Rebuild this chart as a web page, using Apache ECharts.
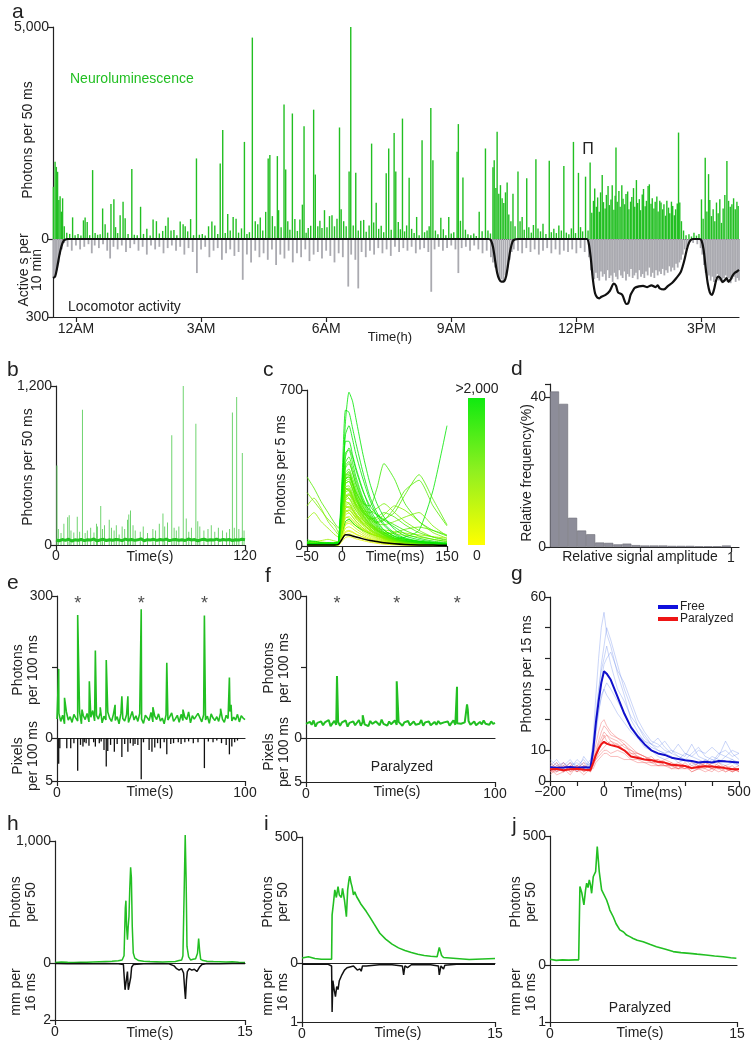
<!DOCTYPE html>
<html><head><meta charset="utf-8">
<script src="https://cdn.jsdelivr.net/npm/echarts@6/dist/echarts.min.js"></script>
<style>html,body{margin:0;padding:0;background:#fff}#c{width:756px;height:1048px}</style>
</head><body><div id="c"></div>
<script>
// ---------------- DATA ----------------
// Panel a: neuroluminescence spikes [hour, photons per 50 ms]
const aGreen = [
[-0.54,1230],[-0.50,1820],[-0.47,1700],[-0.44,1585],[-0.41,920],[-0.38,1010],[-0.35,645],[-0.32,960],[-0.28,300],[-0.22,150],[-0.15,120],[-0.08,510],[-0.02,90],
[0.05,120],[0.12,80],[0.18,440],[0.22,510],[0.27,400],[0.33,90],[0.40,1625],[0.46,140],[0.52,100],[0.58,110],[0.64,720],[0.70,350],[0.76,150],[0.84,825],[0.91,935],[0.95,280],
[1.00,140],[1.06,560],[1.13,880],[1.18,490],[1.25,120],[1.34,1650],[1.40,100],[1.47,90],[1.55,760],[1.62,120],[1.70,240],[1.78,80],[1.85,460],[1.93,420],
[2.00,130],[2.08,190],[2.15,310],[2.21,510],[2.28,200],[2.35,210],[2.42,90],[2.50,410],[2.57,350],[2.62,300],[2.68,180],[2.75,470],[2.82,90],[2.89,1900],[2.96,100],
[3.03,120],[3.10,80],[3.18,300],[3.26,410],[3.33,320],[3.40,120],[3.46,1780],[3.52,2570],[3.58,140],[3.64,590],[3.70,200],[3.77,520],[3.84,480],[3.90,150],[3.97,250],
[4.04,2290],[4.10,120],[4.16,160],[4.23,4750],[4.30,420],[4.36,350],[4.42,510],[4.48,200],[4.55,640],[4.61,1900],[4.65,1980],[4.71,540],[4.77,300],[4.83,1955],[4.86,680],[4.92,280],[4.99,3170],
[5.03,1640],[5.08,420],[5.13,220],[5.19,2960],[5.25,470],[5.31,190],[5.37,460],[5.43,810],[5.47,2660],[5.52,150],[5.57,260],[5.63,310],[5.70,3050],[5.74,1520],[5.80,300],[5.85,430],[5.90,260],[5.96,680],
[6.02,280],[6.08,540],[6.14,560],[6.20,300],[6.26,480],[6.32,2630],[6.36,700],[6.42,420],[6.48,300],[6.55,1590],[6.59,5000],[6.65,320],[6.71,1560],[6.77,200],[6.83,430],[6.90,450],[6.96,170],
[7.03,320],[7.09,2250],[7.14,390],[7.20,855],[7.26,240],[7.32,310],[7.38,160],[7.44,1550],[7.50,2135],[7.56,220],[7.63,2500],[7.67,1590],[7.73,400],[7.78,230],[7.83,2840],[7.88,180],[7.93,320],[7.99,1445],
[8.05,240],[8.11,140],[8.17,520],[8.23,90],[8.30,2330],[8.36,160],[8.42,200],[8.47,300],[8.51,3090],[8.56,1860],[8.62,200],[8.68,110],[8.75,500],[8.81,230],[8.87,90],[8.94,520],
[9.00,130],[9.06,160],[9.14,2055],[9.17,2710],[9.22,430],[9.28,1450],[9.34,220],[9.40,110],[9.47,90],[9.54,130],[9.60,70],[9.67,640],[9.74,180],[9.82,2135],[9.88,200],[9.94,130],
[10.00,1690],[10.03,1860],[10.07,1200],[10.10,2530],[10.14,1070],[10.18,1270],[10.22,960],[10.26,850],[10.30,1100],[10.34,1330],[10.38,580],[10.43,420],[10.48,1070],[10.53,300],[10.60,1590],[10.65,420],[10.70,520],[10.75,220],[10.81,1430],[10.86,280],[10.92,150],[10.97,330],
[11.03,1880],[11.08,250],[11.14,180],[11.20,360],[11.27,120],[11.35,1845],[11.40,160],[11.46,240],[11.52,140],[11.58,320],[11.64,200],[11.70,1720],[11.76,150],[11.82,110],[11.88,250],[11.93,2290],[11.98,140],
[12.05,1560],[12.10,280],[12.15,180],[12.22,1470],[12.28,200],[12.33,1805],
[12.37,620],[12.41,900],[12.44,1190],[12.48,760],[12.51,980],[12.55,640],[12.58,1100],[12.62,1510],[12.65,870],[12.69,720],[12.72,1040],[12.76,1250],[12.79,800],[12.83,930],[12.86,1270],[12.90,690],[12.93,1020],[12.95,2160],[12.98,880],
[13.02,1130],[13.05,760],[13.09,1270],[13.12,950],[13.16,820],[13.19,1060],[13.23,1120],[13.26,700],[13.30,880],[13.33,990],[13.37,1200],[13.40,760],[13.44,1390],[13.47,850],[13.51,940],[13.54,680],[13.58,1050],[13.61,1180],[13.65,770],[13.68,900],[13.72,1250],[13.75,1290],[13.79,830],[13.82,960],[13.86,720],[13.89,880],[13.93,1000],[13.96,650],
[14.00,900],[14.03,860],[14.07,700],[14.10,820],[14.14,550],[14.17,900],[14.21,740],[14.24,610],[14.28,880],[14.31,780],[14.35,560],[14.38,700],[14.42,840],[14.45,2510],[14.48,860],[14.52,420],[14.57,200],[14.63,90],[14.70,110],[14.76,60],[14.82,150],[14.88,80],[14.94,120],
[15.00,935],[15.04,480],[15.09,1915],[15.13,650],[15.17,1530],[15.20,920],[15.24,540],[15.28,700],[15.32,420],[15.36,860],[15.40,610],[15.44,940],[15.48,380],[15.52,720],[15.56,1040],[15.61,1840],[15.65,900],[15.69,760],[15.73,820],[15.77,960],[15.81,700],[15.85,880],[15.88,780]
];
// Panel a: grey activity [hour, active s]
const aGrey = [
[-0.54,150],[-0.50,140],[-0.46,120],[-0.42,90],[-0.38,60],[-0.34,40],[-0.28,15],[-0.2,30],[-0.1,45],[0.0,25],[0.1,40],[0.2,30],[0.3,20],[0.38,55],[0.45,25],[0.55,35],[0.65,20],[0.75,45],[0.82,75],[0.9,30],
[1.0,40],[1.1,25],[1.2,50],[1.3,35],[1.4,20],[1.5,45],[1.6,30],[1.7,60],[1.8,25],[1.9,40],[2.0,30],[2.1,55],[2.2,35],[2.3,25],[2.4,45],[2.5,30],[2.6,60],[2.7,35],[2.8,50],[2.9,131],
[3.0,40],[3.1,30],[3.2,70],[3.3,45],[3.4,35],[3.5,80],[3.6,55],[3.7,40],[3.8,65],[3.9,50],[4.0,157],[4.1,60],[4.2,90],[4.3,45],[4.4,70],[4.5,55],[4.6,80],[4.7,40],[4.8,100],[4.9,60],
[5.0,75],[5.1,45],[5.2,90],[5.3,55],[5.4,70],[5.5,40],[5.6,85],[5.7,60],[5.8,50],[5.9,75],[6.0,45],[6.1,65],[6.2,90],[6.3,55],[6.4,70],[6.53,183],[6.6,60],[6.7,80],[6.77,190],[6.85,50],[6.95,70],
[7.05,45],[7.15,60],[7.25,35],[7.35,55],[7.45,40],[7.55,65],[7.65,30],[7.75,50],[7.85,35],[7.95,45],[8.05,30],[8.15,55],[8.25,40],[8.35,35],[8.45,50],[8.52,203],[8.6,40],[8.7,30],[8.8,45],[8.9,35],
[9.0,25],[9.1,40],[9.17,131],[9.25,35],[9.35,30],[9.45,45],[9.55,25],[9.65,40],[9.75,55],[9.85,45],[9.95,70],[10.0,90],[10.05,110],[10.1,130],[10.15,150],[10.2,155],[10.25,160],[10.3,140],[10.35,110],[10.4,80],[10.45,50],[10.5,40],
[10.6,45],[10.7,55],[10.8,35],[10.9,50],[11.0,40],[11.1,60],[11.2,45],[11.3,35],[11.4,55],[11.5,40],[11.6,60],[11.7,45],[11.8,50],[11.9,40],[12.0,55],[12.1,35],[12.2,50],[12.3,70],
[12.35,120],[12.39,140],[12.43,155],[12.47,130],[12.51,150],[12.55,160],[12.59,125],[12.63,145],[12.67,135],[12.71,160],[12.75,120],[12.79,150],[12.83,140],[12.87,165],[12.91,130],[12.95,145],[12.99,155],
[13.03,120],[13.07,140],[13.11,150],[13.15,125],[13.19,160],[13.23,135],[13.27,145],[13.31,115],[13.35,150],[13.39,140],[13.43,130],[13.47,155],[13.51,120],[13.55,145],[13.59,135],[13.63,150],[13.67,125],[13.71,140],[13.75,110],[13.79,145],[13.83,130],[13.87,150],[13.91,120],[13.95,140],[13.99,125],
[14.03,135],[14.07,115],[14.11,140],[14.15,120],[14.19,130],[14.23,105],[14.27,125],[14.31,110],[14.35,120],[14.39,95],[14.43,110],[14.47,90],[14.51,80],[14.55,60],[14.6,40],[14.65,30],[14.7,20],[14.8,15],[14.9,20],[14.98,35],
[15.02,60],[15.06,100],[15.1,130],[15.14,150],[15.18,140],[15.22,160],[15.26,145],[15.3,165],[15.34,150],[15.38,135],[15.42,160],[15.46,145],[15.5,170],[15.54,150],[15.58,140],[15.62,165],[15.66,150],[15.7,170],[15.74,155],[15.78,145],[15.82,165],[15.86,150],[15.9,160]
];
// Panel a: locomotor activity (10-min average) [hour, active s]
const aBlack = [
[-0.55,150],[-0.5,145],[-0.45,110],[-0.4,65],[-0.35,30],[-0.3,8],[-0.25,2],[-0.2,0],[1,0],[2,0],[3,0],[4,0],[5,0],[6,0],[7,0],[8,0],[9,0],[9.9,0],
[9.95,5],[10.0,30],[10.05,80],[10.1,130],[10.15,155],[10.2,164],[10.27,162],[10.32,140],[10.37,90],[10.42,40],[10.47,10],[10.52,2],[10.6,0],[11,0],[12,0],[12.25,0],
[12.3,20],[12.35,80],[12.4,160],[12.45,210],[12.5,225],[12.55,228],[12.6,222],[12.7,215],[12.8,200],[12.9,172],[12.95,180],[13.0,205],[13.1,215],[13.2,250],[13.25,245],[13.3,215],[13.35,200],[13.4,188],[13.5,182],[13.6,180],[13.7,185],[13.8,178],[13.9,185],[13.95,178],
[14.0,190],[14.1,194],[14.2,180],[14.3,168],[14.4,150],[14.5,128],[14.55,105],[14.6,75],[14.65,40],[14.7,15],[14.75,3],[14.8,0],[14.95,0],
[15.0,5],[15.05,40],[15.1,110],[15.15,170],[15.2,205],[15.25,215],[15.3,195],[15.35,160],[15.4,145],[15.45,150],[15.5,165],[15.55,160],[15.6,150],[15.65,165],[15.7,155],[15.75,140],[15.8,130],[15.85,125],[15.9,119]
];
const aTickHours = [0,3,6,9,12,15];
const aTickLabels = ['12AM','3AM','6AM','9AM','12PM','3PM'];

// Panel b: baseline every 2 s, spikes [s, photons]
const bBase = [38,32,41,35,44,30,39,36,42,33,40,37,45,31,38,43,34,40,36,42,39,33,44,37,41,35,39,46,32,40,38,43,35,41,37,44,33,39,42,36,40,34,45,38,41,32,39,43,36,40,37,44,35,41,38,42,34,40,37,43,39];
const bSpikes = [[0.6,600],[1.5,120],[3.2,90],[5.0,160],[7.4,210],[8.4,225],[9.5,110],[11.3,95],[13.5,213],[15.0,100],[16.8,1020],[18.5,90],[19.9,110],[22.0,130],[24.1,95],[25.7,160],[26.3,140],[28.4,294],[29.5,120],[30.8,150],[33.8,190],[35.2,130],[36.9,110],[38.3,150],[40.1,80],[42.0,140],[43.6,120],[45.4,190],[46.2,230],[47.3,260],[48.9,150],[50.3,110],[53.5,100],[55.4,140],[58.1,90],[61.5,120],[63.2,110],[65.6,160],[67.9,238],[69.0,140],[70.8,170],[73.5,828],[75.0,130],[76.4,110],[78.0,140],[80.8,1200],[82.7,200],[84.3,100],[86.0,130],[88.8,916],[90.0,180],[91.3,140],[93.9,110],[96.5,120],[98.6,150],[100.8,100],[103.1,130],[105.7,110],[108.3,95],[110.2,120],[112.0,1000],[113.2,130],[114.7,1117],[116.1,120],[118.3,695],[119.4,110]];

// Panel c: individual responses (photons per 5 ms) at these times (ms)
const cT = [-50,-40,-30,-20,-10,-5,0,5,10,15,20,30,40,50,60,75,90,110,130,150];
const cTraces = [
[2,3,2,3,2,4,20,38,42,38,32,24,17,12,8,5,4,3,2,2],
[3,3,4,3,4,4,28,50,55,50,42,31,22,15,11,7,5,3,2,2],
[4,5,4,6,5,7,30,60,66,60,52,40,30,22,16,11,8,6,4,3],
[3,4,3,4,3,5,35,65,70,64,54,40,28,19,13,8,5,4,3,2],
[4,3,4,3,5,5,40,80,86,78,66,48,34,23,16,10,6,4,3,2],
[3,4,5,4,3,6,50,95,102,92,78,56,40,27,18,11,7,5,3,3],
[6,8,7,9,7,10,45,100,110,100,90,70,55,45,36,28,20,14,10,7],
[4,5,4,5,6,6,55,110,118,105,89,64,46,31,21,13,8,6,4,3],
[6,5,7,6,5,8,60,110,120,105,90,70,55,45,38,32,40,70,250,540],
[8,6,7,5,8,9,70,130,125,112,98,75,58,44,34,25,18,12,9,6],
[5,4,5,6,4,7,65,125,132,118,100,72,51,35,23,14,9,6,4,3],
[4,5,6,4,5,7,70,140,148,132,112,80,57,38,26,15,10,7,5,3],
[10,14,18,15,12,14,85,150,160,145,130,105,85,70,62,55,48,40,30,20],
[8,6,9,7,8,10,90,160,150,130,110,80,60,45,35,25,18,12,9,7],
[5,6,5,6,7,8,80,155,162,145,122,88,62,42,28,17,11,8,5,4],
[6,5,6,7,5,8,85,170,178,160,135,97,68,46,31,18,12,8,6,4],
[16,20,24,30,22,18,95,170,175,160,140,115,95,80,72,65,58,50,42,35],
[12,9,7,10,8,12,100,180,170,150,125,95,70,52,40,30,22,15,11,8],
[120,150,110,80,50,40,90,180,190,165,140,100,70,48,32,20,12,8,6,5],
[5,6,7,5,6,9,95,190,195,175,148,105,75,50,34,20,13,9,6,4],
[5,7,6,8,6,9,120,200,190,165,140,100,74,55,41,29,20,14,10,7],
[7,6,5,7,6,9,100,205,215,190,160,115,80,55,36,21,14,9,6,5],
[180,215,170,110,70,50,120,220,230,200,170,120,80,55,35,20,15,10,8,6],
[15,12,10,12,14,16,110,210,230,210,185,150,130,120,140,180,160,110,60,35],
[9,11,8,6,9,11,130,230,215,185,160,118,88,66,50,36,26,18,13,9],
[6,7,8,6,7,10,110,225,235,210,175,125,88,60,40,23,15,10,7,5],
[10,12,14,10,12,14,120,240,250,220,190,150,120,100,95,110,130,150,90,45],
[240,200,160,120,90,60,150,260,250,220,180,130,90,60,40,25,15,10,8,6],
[14,10,12,9,11,13,140,260,245,215,182,135,100,76,58,42,30,21,15,10],
[8,7,9,8,10,11,120,250,255,225,190,135,95,64,42,25,16,10,7,5],
[20,18,15,12,10,12,130,250,260,230,200,160,150,170,190,150,110,70,40,25],
[10,8,9,11,8,12,130,265,270,240,205,145,100,68,45,26,16,11,8,6],
[9,8,10,7,9,11,140,280,290,255,215,155,105,70,47,27,17,11,8,6],
[14,12,10,12,14,16,150,280,290,255,215,160,125,110,120,150,230,320,210,95],
[7,6,8,7,6,9,150,290,300,260,210,140,95,70,55,60,75,85,70,50],
[7,9,8,10,9,12,150,300,310,275,230,165,112,75,50,28,18,12,8,6],
[15,12,10,10,12,18,160,300,310,280,240,190,180,260,370,300,190,110,70,45],
[310,260,200,150,100,80,180,300,320,285,230,160,110,72,50,30,20,15,10,8],
[10,10,12,15,10,15,170,320,320,285,245,175,130,105,115,170,250,295,180,90],
[12,10,8,9,11,13,160,310,330,290,245,175,120,80,52,30,19,12,9,7],
[9,8,10,9,8,10,160,320,335,280,220,150,120,130,150,130,95,60,40,28],
[8,9,11,8,10,12,170,330,345,305,260,185,125,85,56,33,20,13,9,7],
[10,12,9,11,10,14,180,350,370,330,280,195,135,90,60,35,22,14,10,8],
[12,14,11,13,12,15,190,360,380,330,275,200,160,140,120,95,70,45,30,20],
[8,10,12,10,8,14,200,375,400,350,295,205,142,96,62,36,22,15,10,8],
[28,20,15,10,12,20,230,420,430,375,310,215,152,102,70,45,30,20,15,10],
[10,12,10,11,13,14,210,400,440,400,340,245,180,140,115,85,55,35,22,15],
[12,10,8,14,10,15,220,470,470,410,350,250,165,112,72,42,26,16,11,8],
[18,22,15,12,16,20,270,500,540,480,410,300,205,135,92,52,32,20,14,10],
[10,8,12,15,10,18,300,610,600,530,460,330,220,150,100,58,36,22,15,12],
[12,10,14,9,12,16,240,560,690,650,570,410,280,190,130,75,45,28,18,12]
];
const cMean = [5,5,5,5,5,8,30,50,49,45,40,32,25,20,15,10,7,5,4,3];

// Panel d: histogram, 0.05-wide bins
const dBinCenters = [0.025,0.075,0.125,0.175,0.225,0.275,0.325,0.375,0.425,0.475,0.525,0.575,0.625,0.675,0.725,0.775,0.825,0.875,0.925,0.975];
const dFreq = [41.5,38.2,7.8,4.4,3.4,1.2,1.1,0.7,0.9,0.5,0.4,0.4,0.4,0.3,0.3,0.3,0.2,0.2,0.2,0.4];

// Panel e: photons baseline every 1 s + spikes; pixels per 100 ms
const eBase = [40,52,35,48,30,55,38,45,33,50,42,36,55,30,47,39,52,34,44,58,36,48,40,53,32,46,38,55,42,35,50,37,45,30,52,41,36,49,33,44,56,38,47,35,52,40,31,48,43,37,54,34,46,39,51,36,42,30,49,38,45,53,35,41,48,33,50,37,44,39,55,32,47,40,36,52,43,34,49,38,46,31,51,42,37,45,35,53,40,33,48,41,56,36,44,38,50,34,47,42,39];
const eSpikes = [[0.9,146],[4.0,85],[11.0,260],[13.3,60],[17.2,120],[20.4,185],[23.0,65],[26.2,165],[30.9,70],[34.5,88],[37.7,88],[44.8,272],[51.0,65],[58.4,159],[67.0,60],[78.4,259],[87.0,62],[91.7,128],[92.6,70]];
const ePixels = [[0.9,3.0],[1.5,1.2],[5.2,1.2],[7.3,1.2],[9.0,0.6],[11.0,3.8],[12.5,0.8],[13.8,1.0],[14.5,0.5],[15.5,0.6],[17.0,0.9],[19.5,0.5],[20.4,1.0],[22.5,0.6],[23.5,0.4],[25.0,1.4],[26.2,3.3],[27.0,1.5],[28.5,0.8],[30.5,1.6],[32.0,0.7],[34.5,2.2],[36.0,0.7],[37.7,1.6],[39.0,0.6],[40.5,0.9],[41.5,0.7],[43.0,0.8],[44.8,4.8],[46.0,0.5],[49.0,1.4],[50.5,1.6],[52.0,1.1],[53.5,0.6],[55.0,1.2],[57.0,0.5],[58.4,1.9],[60.5,0.7],[62.0,0.6],[64.5,0.5],[66.0,0.7],[68.0,0.5],[70.0,0.4],[72.5,0.6],[75.0,0.5],[78.4,3.5],[80.5,0.4],[83.0,0.5],[85.0,0.3],[87.5,0.6],[90.0,0.8],[91.7,1.9],[93.0,1.0],[94.5,0.5],[96.0,0.3]];
const eStars = [11.0,44.8,78.4];

// Panel f: paralyzed
const fBase = [30,26,34,28,37,24,32,29,35,27,33,30,38,25,31,36,28,34,26,33,30,37,24,32,29,35,27,31,38,26,34,29,33,25,36,30,28,35,31,27,39,30,33,26,35,29,32,37,28,34,30,26,33,29,36,27,31,35,28,32,30,38,26,33,29,35,27,31,34,28,36,30,27,33,29,35,26,32,37,28,31,34,30,26,33,29,36,28,32,35,27,31,34,29,37,30,33,28,35,30,32];
const fSpikes = [[16.4,131],[30.0,48],[48.0,120],[79.9,108],[85.2,71],[85.6,60]];
const fStars = [16.4,48.0,80.0];

// Panel g: photons per 15 ms at these times (ms)
const gT = [-200,-175,-150,-125,-100,-75,-50,-40,-30,-20,-10,0,10,25,50,75,100,125,150,175,200,225,250,275,300,325,350,375,400,425,450,475,500];
const gFreeMean = [4.5,4.3,4.4,4.6,4.3,4.5,4.4,10,19,26,32,35.8,35,33,27.5,22,17.5,14.5,12,10,9,8.5,7.6,7.2,6.8,6.5,6.0,6.3,6.0,6.5,6.4,6.2,6.0];
const gParMean = [3.8,3.9,3.5,3.8,4.0,3.7,3.6,6,8.5,10.5,12,12.8,12.2,11.7,11.2,10,8,7.5,7,6.8,6.3,6,5.3,5.1,4.9,4.2,4.6,4.8,4.7,4.5,4.2,3.8,3.8];
const gFreeTraces = [
[5,7,4,6,3,8,5,14,28,40,50,55,48,44,35,28,20,16,13,11,10,9,8,7,9,8,7,6,8,7,6,7,6],
[3,5,6,4,7,5,4,9,18,28,38,44,50,46,38,30,24,18,14,12,10,9,10,8,7,9,11,8,7,6,8,7,5],
[6,4,5,7,4,6,5,11,20,27,33,38,40,42,36,32,26,20,16,13,12,10,9,12,9,8,10,9,11,9,8,10,9],
[4,6,3,5,6,4,6,8,15,22,28,30,32,30,26,22,18,15,13,12,14,11,9,8,7,6,5,7,6,8,13,9,7],
[5,3,6,4,5,7,4,10,17,23,27,30,28,26,22,19,16,14,11,10,8,7,8,6,7,5,6,5,7,6,5,6,5],
[7,5,4,6,5,4,7,12,22,30,36,40,44,38,30,26,21,18,15,12,11,13,10,9,8,12,8,7,6,9,10,8,9]
];
const gParTraces = [
[4,6,3,5,4,6,3,7,10,13,16,18,17,15,14,12,10,9,8,7,7,6,5,6,5,4,5,6,5,4,5,3,4],
[3,4,6,3,5,3,5,6,9,11,13,14,15,14,13,11,10,8,7,8,6,7,6,5,4,6,5,4,6,5,4,5,3],
[5,3,4,6,3,5,4,5,8,10,12,15,13,12,12,10,9,9,8,6,7,5,5,4,6,4,5,5,4,6,4,4,5],
[2,4,5,3,4,2,4,6,7,9,10,11,12,13,11,12,9,8,7,7,5,6,4,5,5,3,4,6,5,4,3,4,3],
[4,2,3,5,3,4,3,5,7,8,9,10,10,9,10,9,7,7,6,6,6,5,6,4,4,5,4,3,4,5,4,3,4],
[3,5,4,2,5,4,3,8,12,16,19,20,18,16,14,13,11,9,8,7,6,6,5,5,4,4,6,5,4,4,5,4,4],
[6,4,3,4,5,3,4,4,6,7,8,9,9,8,8,7,7,6,6,5,5,5,4,4,5,3,4,4,3,5,3,4,3],
[3,3,5,4,3,5,4,6,9,12,14,16,15,13,12,10,8,8,7,6,5,5,5,4,5,4,4,5,4,3,4,3,4]
];

// Panel h
const hPhotons = [[0,5],[0.5,8],[1,6],[1.5,5],[2,7],[2.5,6],[3,8],[3.5,10],[4,12],[4.5,14],[5,18],[5.3,25],[5.45,60],[5.55,450],[5.6,511],[5.65,300],[5.72,190],[5.78,300],[5.84,380],[5.9,600],[5.97,785],[6.03,700],[6.1,300],[6.18,82],[6.3,40],[6.4,27],[6.6,20],[7,15],[7.5,12],[8,10],[8.5,8],[9,10],[9.5,12],[9.8,20],[10,25],[10.1,60],[10.2,600],[10.28,1050],[10.35,700],[10.42,136],[10.55,50],[10.7,25],[10.9,30],[11.1,35],[11.25,80],[11.34,200],[11.42,100],[11.5,30],[11.7,20],[12,15],[12.5,12],[13,10],[13.5,8],[14,10],[14.5,6],[15,5]];
const hMove = [[0,0.02],[1,0.03],[2,0.02],[3,0.03],[4,0.02],[5,0.03],[5.4,0.05],[5.48,0.6],[5.53,0.94],[5.6,0.9],[5.66,0.5],[5.72,0.3],[5.79,0.94],[5.85,0.9],[5.92,0.94],[5.98,0.5],[6.05,0.15],[6.2,0.05],[7,0.03],[8,0.02],[9,0.03],[9.4,0.1],[9.6,0.2],[9.8,0.25],[10,0.2],[10.15,0.35],[10.25,1.0],[10.3,1.26],[10.38,0.6],[10.45,0.3],[10.6,0.2],[10.8,0.25],[11,0.22],[11.2,0.3],[11.4,0.15],[11.6,0.05],[12,0.02],[13,0.03],[14,0.02],[15,0.02]];
// Panel i
const iPhotons = [[0,20],[0.5,25],[1,18],[1.5,15],[2,15],[2.3,15],[2.34,191],[2.45,240],[2.55,290],[2.67,260],[2.8,303],[2.9,270],[3.06,260],[3.15,296],[3.3,250],[3.45,184],[3.55,290],[3.65,330],[3.71,345],[3.8,320],[3.9,300],[4.0,270],[4.1,283],[4.25,263],[4.4,250],[4.6,232],[4.8,218],[5.0,204],[5.3,180],[5.6,155],[6.05,118],[6.5,95],[7.0,75],[7.5,60],[8.0,50],[8.5,42],[9,35],[9.5,30],[10,27],[10.5,25],[10.67,62],[10.85,30],[11,22],[12,18],[13,14],[14,16],[15,18]];
const iMove = [[0,0.02],[1,0.02],[2,0.02],[2.3,0.05],[2.34,0.83],[2.4,0.3],[2.5,0.45],[2.6,0.57],[2.7,0.4],[2.8,0.45],[2.9,0.3],[3.1,0.2],[3.3,0.12],[3.5,0.08],[4,0.05],[4.3,0.12],[4.5,0.1],[4.6,0.14],[4.7,0.05],[5,0.05],[6,0.03],[7,0.03],[7.8,0.05],[7.9,0.2],[8,0.05],[8.2,0.08],[8.5,0.03],[10,0.03],[10.6,0.05],[10.67,0.2],[10.8,0.05],[11,0.1],[11.1,0.04],[12,0.02],[15,0.02]];
// Panel j
const jPhotons = [[0,22],[0.5,18],[1,20],[1.5,19],[2,20],[2.3,20],[2.4,304],[2.55,280],[2.72,233],[2.85,290],[2.94,317],[3.05,300],[3.15,330],[3.25,310],[3.34,278],[3.47,342],[3.6,345],[3.66,362],[3.79,459],[3.95,362],[4.14,291],[4.3,285],[4.54,252],[4.7,230],[4.8,213],[5.07,187],[5.3,160],[5.6,136],[5.9,128],[6.14,116],[6.4,110],[6.67,103],[7.0,96],[7.47,90],[8.0,80],[8.54,71],[9.2,62],[9.88,52],[10.5,48],[11.2,45],[11.8,42],[12.5,39],[13.2,35],[13.9,32],[14.5,28],[14.95,26]];

// ---------------- CHART ----------------
const INK = '#222';
const FONT = '"Liberation Sans", Arial, sans-serif';
const GREEN = '#22bf22';
const fmtNum = v => { const s = String(Math.abs(v)).replace(/\B(?=(\d{3})+(?!\d))/g, ','); return (v < 0 ? '\u2212' : '') + s; };

const grids = [], xAxes = [], yAxes = [], series = [];
function addGrid(l, t, w, h) { grids.push({left:l, top:t, width:w, height:h, containLabel:false, outerBoundsMode:'none'}); return grids.length - 1; }
function axisCommon(o) {
  return {
    axisLine: {show: o.line !== false, onZero:false, lineStyle:{color:INK, width:1.2}},
    axisTick: {show: !!o.ticks, customValues: o.ticks, length: 5, lineStyle:{color:INK, width:1.2}},
    axisLabel: {show: !!o.labels, customValues: o.labels, formatter: o.fmt || fmtNum, fontSize: 14, color: INK, fontFamily: FONT, margin: o.margin || 4},
    splitLine: {show:false}
  };
}
function addX(gi, min, max, o) { xAxes.push(Object.assign({gridIndex:gi, type:'value', min, max, position:'bottom'}, axisCommon(o))); }
function addY(gi, min, max, o, inv) { yAxes.push(Object.assign({gridIndex:gi, type:'value', min, max, inverse: !!inv, position:'left'}, axisCommon(o))); }
const pairsFromBase = (base, step) => base.map((v, i) => [i * step, v]);
const mergeSorted = (a, b) => a.concat(b).sort((p, q) => p[0] - q[0]);
const zip = (xs, ys) => xs.map((x, i) => [x, ys[i]]);

// a
const gA1 = addGrid(53, 27, 686, 212);
addX(gA1, -0.55, 15.9, {line:true});
addY(gA1, 0, 5000, {ticks:[0,5000], labels:[0,5000]});
const gA2 = addGrid(53, 239, 686, 78);
addX(gA2, -0.55, 15.9, {ticks:aTickHours, labels:aTickHours, fmt: v => aTickLabels[aTickHours.indexOf(v)], margin:5});
addY(gA2, 0, 300, {ticks:[300], labels:[300]}, true);
series.push({type:'bar', xAxisIndex:gA1, yAxisIndex:gA1, data:aGreen, barWidth:1.4, itemStyle:{color:GREEN}, silent:true});
series.push({type:'bar', xAxisIndex:gA2, yAxisIndex:gA2, data:aGrey, barWidth:1.8, itemStyle:{color:'#aaaab0'}, silent:true});
series.push({type:'line', xAxisIndex:gA2, yAxisIndex:gA2, data:aBlack, smooth:0.3, showSymbol:false, clip:false, lineStyle:{color:'#111', width:2.2}, silent:true});

// b
const gB = addGrid(56, 386, 189, 159);
addX(gB, 0, 120, {ticks:[0,120], labels:[0,120]});
addY(gB, 0, 1200, {ticks:[0,1200], labels:[0,1200]});
series.push({type:'bar', xAxisIndex:gB, yAxisIndex:gB, data:bSpikes, barWidth:1, itemStyle:{color:'#6fd46f'}, silent:true});
series.push({type:'line', xAxisIndex:gB, yAxisIndex:gB, data:pairsFromBase(bBase, 2), showSymbol:false, lineStyle:{color:'#22c022', width:3}, silent:true});

// c
const gC = addGrid(307, 390, 140, 156);
addX(gC, -50, 150, {ticks:[-50,0,150], labels:[-50,0,150]});
addY(gC, 0, 700, {ticks:[0,700], labels:[0,700]});
function ygColor(peak) {
  const f = Math.min(1, peak / 480);
  const r = Math.round(255 * (1 - f)), g = Math.round(250 - 20 * f);
  return 'rgb(' + r + ',' + g + ',0)';
}
cTraces.forEach(tr => {
  const pk = Math.max.apply(null, tr);
  series.push({type:'line', xAxisIndex:gC, yAxisIndex:gC, data:zip(cT, tr), showSymbol:false, smooth:0.2, lineStyle:{color:ygColor(pk), width:0.9, opacity:0.9}, silent:true});
});
series.push({type:'line', xAxisIndex:gC, yAxisIndex:gC, data:zip(cT, cMean), showSymbol:false, smooth:0.3, lineStyle:{color:'#000', width:1.5}, silent:true});

// d
const gD = addGrid(550, 384, 189, 163);
addX(gD, 0, 1.045, {ticks:[0.5,1], labels:[1], fmt: v => String(v)});
addY(gD, 0, 43.5, {ticks:[0,40,43.5], labels:[0,40], fmt: v => String(v)});
series.push({type:'bar', xAxisIndex:gD, yAxisIndex:gD, data:zip(dBinCenters, dFreq), barWidth:9, itemStyle:{color:'#8d8d99', borderColor:'#6a6a74', borderWidth:0.6}, silent:true});

// e
const gE1 = addGrid(57, 596, 188, 142);
addX(gE1, 0, 100, {line:true});
addY(gE1, 0, 300, {ticks:[0,150,300], labels:[0,300]});
const gE2 = addGrid(57, 738, 188, 43);
addX(gE2, 0, 100, {ticks:[0,100], labels:[0,100], margin:5});
addY(gE2, 0, 5, {ticks:[5], labels:[5]}, true);
series.push({type:'line', xAxisIndex:gE1, yAxisIndex:gE1, data:mergeSorted(pairsFromBase(eBase, 1), eSpikes), showSymbol:false, lineStyle:{color:GREEN, width:1.6}, silent:true});
series.push({type:'bar', xAxisIndex:gE2, yAxisIndex:gE2, data:ePixels, barWidth:1.3, itemStyle:{color:'#111'}, silent:true});
series.push({type:'scatter', xAxisIndex:gE1, yAxisIndex:gE1, data:eStars.map(t => [t, 282]), symbolSize:1, itemStyle:{color:'rgba(0,0,0,0)'}, label:{show:true, position:'inside', formatter:'*', fontSize:18, fontFamily:FONT, color:INK}, silent:true});

// f
const gF1 = addGrid(306, 596, 189, 142);
addX(gF1, 0, 100, {line:true});
addY(gF1, 0, 300, {ticks:[0,150,300], labels:[0,300]});
const gF2 = addGrid(306, 738, 189, 44);
addX(gF2, 0, 100, {ticks:[0,100], labels:[0,100], margin:5});
addY(gF2, 0, 5, {ticks:[5], labels:[5]}, true);
series.push({type:'line', xAxisIndex:gF1, yAxisIndex:gF1, data:mergeSorted(pairsFromBase(fBase, 1), fSpikes), showSymbol:false, lineStyle:{color:GREEN, width:2}, silent:true});
series.push({type:'scatter', xAxisIndex:gF1, yAxisIndex:gF1, data:fStars.map(t => [t, 282]), symbolSize:1, itemStyle:{color:'rgba(0,0,0,0)'}, label:{show:true, position:'inside', formatter:'*', fontSize:18, fontFamily:FONT, color:INK}, silent:true});

// g
const gG = addGrid(550, 597, 189, 184);
addX(gG, -200, 500, {ticks:[-200,-100,0,100,200,300,400,500], labels:[-200,0,500]});
addY(gG, 0, 60, {ticks:[0,10,20,30,40,50,60], labels:[0,10,60]});
gFreeTraces.forEach(tr => series.push({type:'line', xAxisIndex:gG, yAxisIndex:gG, data:zip(gT, tr), showSymbol:false, lineStyle:{color:'rgba(110,140,235,0.45)', width:0.8}, silent:true}));
gParTraces.forEach(tr => series.push({type:'line', xAxisIndex:gG, yAxisIndex:gG, data:zip(gT, tr), showSymbol:false, lineStyle:{color:'rgba(240,90,90,0.5)', width:0.8}, silent:true}));
series.push({name:'Free', type:'line', xAxisIndex:gG, yAxisIndex:gG, data:zip(gT, gFreeMean), showSymbol:false, lineStyle:{color:'#1010cc', width:2}, itemStyle:{color:'#1010dd'}, silent:true});
series.push({name:'Paralyzed', type:'line', xAxisIndex:gG, yAxisIndex:gG, data:zip(gT, gParMean), showSymbol:false, lineStyle:{color:'#ee1515', width:2}, itemStyle:{color:'#ee1515'}, silent:true});

// h, i, j
function splitPanel(l, w, top, zero, bottom, ymax, ymin2, photons, move, pw) {
  const g1 = addGrid(l, top, w, zero - top);
  addX(g1, 0, 15, {line:true});
  addY(g1, 0, ymax, {ticks:[0, ymax], labels:[0, ymax]});
  const g2 = addGrid(l, zero, w, bottom - zero);
  addX(g2, 0, 15, {ticks:[0,15], labels:[0,15], margin:5});
  addY(g2, 0, ymin2, {ticks:[ymin2], labels:[ymin2]}, true);
  series.push({type:'line', xAxisIndex:g1, yAxisIndex:g1, data:photons, showSymbol:false, clip:false, lineStyle:{color:GREEN, width:pw}, silent:true});
  if (move) series.push({type:'line', xAxisIndex:g2, yAxisIndex:g2, data:move, showSymbol:false, clip:false, lineStyle:{color:'#111', width:1.5}, silent:true});
}
splitPanel(55, 190, 841, 963, 1020, 1000, 2, hPhotons, hMove, 1.5);
splitPanel(302, 193, 837, 963, 1022, 500, 1, iPhotons, iMove, 1.6);
splitPanel(550, 187, 836, 965, 1022, 500, 1, jPhotons, null, 1.6);

// ---------------- TEXT ----------------
const gfx = [];
function T(text, x, y, o) {
  o = o || {};
  gfx.push({type:'text', x, y, rotation: o.rot ? Math.PI / 2 : 0, silent:true, z:100,
    style:{text, fontSize:o.size || 14, fontFamily:FONT, fill:o.color || INK, align:o.align || 'center', verticalAlign:o.va || 'middle', lineHeight:o.lh || 15}});
}
// panel letters
T('a', 12, 12, {size:21, align:'left'});
T('b', 7, 370, {size:21, align:'left'});
T('c', 263, 370, {size:21, align:'left'});
T('d', 511, 369, {size:21, align:'left'});
T('e', 7, 583, {size:21, align:'left'});
T('f', 265, 576, {size:21, align:'left'});
T('g', 511, 574, {size:21, align:'left'});
T('h', 7, 824, {size:21, align:'left'});
T('i', 264, 824, {size:21, align:'left'});
T('j', 512, 826, {size:21, align:'left'});
// a
T('Neuroluminescence', 70, 79, {color:GREEN, align:'left'});
T('Photons per 50 ms', 28, 140, {rot:true});
T('Active s per\n10 min', 31, 270, {rot:true, lh:13});
T('Locomotor activity', 68, 307, {align:'left'});
T('Time(h)', 390, 337, {size:13});
T('\u03A0', 588, 150, {size:16});
// b
T('Photons per 50 ms', 28, 467, {rot:true});
T('Time(s)', 150, 557);
// c
T('Photons per 5 ms', 281, 470, {rot:true});
T('Time(ms)', 395, 557);
gfx.push({type:'rect', silent:true, shape:{x:468, y:398, width:17, height:147},
  style:{fill:new echarts.graphic.LinearGradient(0, 0, 0, 1, [{offset:0, color:'#10ea10'}, {offset:0.5, color:'#90f020'}, {offset:1, color:'#ffff00'}])}});
T('>2,000', 477, 389);
T('0', 477, 556);
// d
T('Relative frequency(%)', 527, 473, {rot:true});
T('Relative signal amplitude', 640, 557);
// e
T('Photons\nper 100 ms', 26, 670, {rot:true});
T('Pixels\nper 100 ms', 26, 756, {rot:true});
T('Time(s)', 150, 792);
// f
T('Photons\nper 100 ms', 277, 668, {rot:true});
T('Pixels\nper 100 ms', 277, 752, {rot:true});
T('Paralyzed', 402, 767);
T('Time(s)', 397, 792);
// g
T('Photons per 15 ms', 527, 674, {rot:true});
T('Time(ms)', 653, 793);
// h,i,j
T('Photons\nper 50', 24, 902, {rot:true});
T('mm per\n16 ms', 24, 992, {rot:true});
T('Time(s)', 150, 1033);
T('Photons\nper 50', 276, 902, {rot:true});
T('mm per\n16 ms', 276, 992, {rot:true});
T('Time(s)', 398, 1033);
T('Photons\nper 50', 524, 902, {rot:true});
T('mm per\n16 ms', 524, 992, {rot:true});
T('Paralyzed', 640, 1008);
T('Time(s)', 640, 1033);

const chart = echarts.init(document.getElementById('c'), null, {renderer:'canvas', width:756, height:1048});
chart.setOption({
  animation:false,
  backgroundColor:'#fff',
  textStyle:{fontFamily:FONT},
  grid:grids, xAxis:xAxes, yAxis:yAxes, series:series,
  legend:{data:['Free','Paralyzed'], left:653, top:596, orient:'vertical', icon:'rect', itemWidth:20, itemHeight:4, itemGap:0, selectedMode:false,
    textStyle:{fontSize:12, color:INK, fontFamily:FONT, padding:[0,0,0,-3]}},
  graphic:gfx
});
</script></body></html>
